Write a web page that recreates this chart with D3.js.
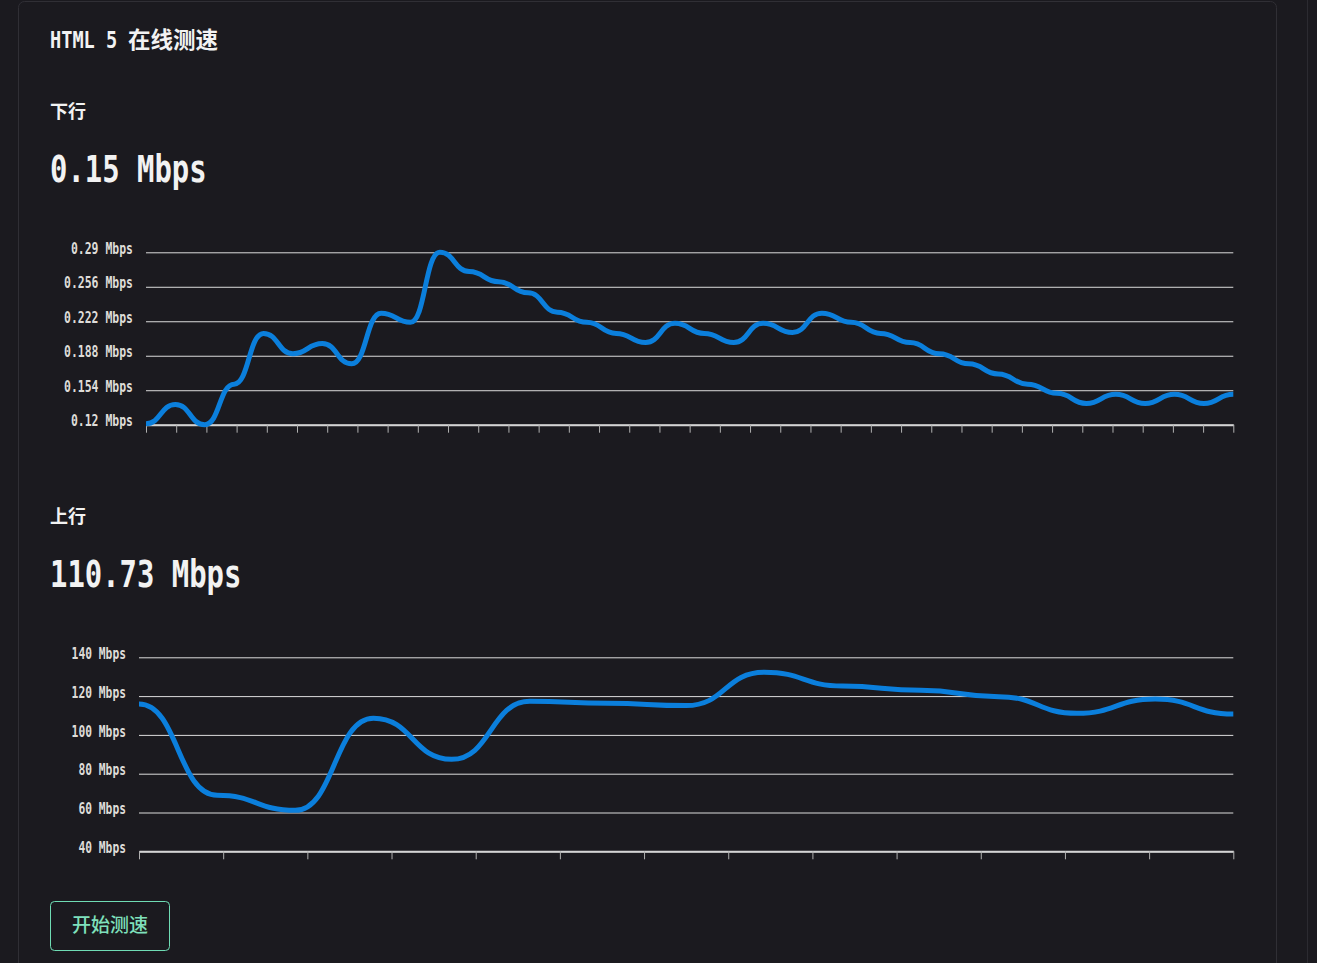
<!DOCTYPE html>
<html><head><meta charset="utf-8">
<script src="https://cdn.jsdelivr.net/npm/d3@7"></script>
<style>
html,body{margin:0;padding:0;background:#1b1a1f;overflow:hidden}
svg{display:block}
</style></head><body>
<svg id="c" width="1317" height="963"></svg>
<script>
// ---- data ----
const titleLatin = "HTML 5";
const titleCJK = "在线测速";
const downloadLabel = "下行";
const uploadLabel = "上行";
const buttonLabel = "开始测速";
const unit = "Mbps";

const downloadValues = [0.121,0.140,0.120,0.160,0.210,0.190,0.200,0.180,0.230,0.221,
  0.290,0.271,0.261,0.250,0.231,0.221,0.210,0.201,0.220,0.210,
  0.201,0.220,0.211,0.230,0.221,0.210,0.201,0.190,0.180,0.170,
  0.160,0.151,0.141,0.150,0.141,0.150,0.141,0.150];
const downloadTicks = [0.12,0.154,0.188,0.222,0.256,0.29];

const uploadValues = [115.9,68.9,61.1,108.6,87.4,117.3,116.3,115.1,132.3,125.2,123.0,119.7,111.1,118.5,110.73];
const uploadTicks = [40,60,80,100,120,140];

// ---- drawing ----
const W = 1317, H = 963;
const svg = d3.select("#c");
const mono = "'DejaVu Sans Mono', 'Noto Sans CJK SC', monospace";
const cjk = "'Noto Sans CJK SC', sans-serif";

svg.append("rect").attr("x",18.5).attr("y",1.5).attr("width",1258).attr("height",1020)
  .attr("rx",6).attr("fill","#1b1a1f").attr("stroke","#302f35");
svg.append("line").attr("x1",1307.5).attr("x2",1307.5).attr("y1",0).attr("y2",H).attr("stroke","#2c2b31");

function addText(str, o) {
  const t = svg.append("text").text(str)
    .attr("x", o.x).attr("y", o.y)
    .attr("font-family", o.family || mono)
    .attr("font-size", o.size)
    .attr("font-weight", o.weight || "normal")
    .attr("fill", o.fill || "#f2f2f2")
    .attr("text-anchor", o.anchor || "start");
  if (o.len) t.attr("textLength", o.len).attr("lengthAdjust", "spacingAndGlyphs");
  return t;
}

addText(titleLatin, {x:50, y:48, size:23, weight:"bold", len: titleLatin.length*11.2});
addText(titleCJK, {x:128, y:48, size:22.5, family:cjk, weight:"bold"});

function drawSection(o) {
  addText(o.label, {x:50, y:o.labelY, size:18, family:cjk, weight:"bold"});
  const big = `${d3.format(".2f")(o.values[o.values.length-1])} ${unit}`;
  addText(big, {x:50, y:o.bigY, size:37, weight:"bold", len: big.length*17.4});

  const n = o.values.length;
  const x = d3.scaleLinear().domain([0, n-1]).range([o.left, o.right]);
  const y = d3.scaleLinear().domain([o.ticks[0], o.ticks[o.ticks.length-1]]).range([o.bottom, o.top]);
  const nT = n - 1;
  const xt = d3.range(nT).map(i => i*(n-1)/(nT-1));

  const ya = svg.append("g").attr("transform", `translate(${o.left},0)`)
    .call(d3.axisLeft(y).tickValues(o.ticks).tickSize(-(o.right-o.left)).tickPadding(13)
      .tickFormat(d => `${d} ${unit}`));
  ya.select(".domain").remove();
  ya.selectAll(".tick line").attr("stroke","#dcdcdc").attr("stroke-width",1);
  ya.selectAll(".tick text").attr("fill","#dedcd8").attr("font-family",mono)
    .attr("font-size",15).attr("font-weight","bold").attr("dy","0.08em")
    .each(function(){ this.setAttribute("textLength", this.textContent.length*o.labelCell);
                      this.setAttribute("lengthAdjust","spacingAndGlyphs"); });

  const xa = svg.append("g").attr("transform", `translate(0,${o.bottom})`)
    .call(d3.axisBottom(x).tickValues(xt).tickSize(8).tickSizeOuter(0).tickFormat(""));
  xa.select(".domain").attr("stroke","#d4d4d4").attr("stroke-width",2);
  xa.selectAll(".tick line").attr("stroke","#b0b0b0");

  svg.append("path").datum(o.values)
    .attr("d", d3.line().x((d,i)=>x(i)).y(d=>y(d)).curve(d3.curveBumpX))
    .attr("fill","none").attr("stroke","#0b7fdc").attr("stroke-width",5)
    .attr("stroke-linejoin","round");
}

drawSection({label:downloadLabel, labelY:118, bigY:182, values:downloadValues, ticks:downloadTicks,
  top:252.3, bottom:424.7, left:146, right:1233.3, labelCell:6.9});
drawSection({label:uploadLabel, labelY:523, bigY:587, values:uploadValues, ticks:uploadTicks,
  top:657.3, bottom:851.3, left:139, right:1233.3, labelCell:6.8});

svg.append("rect").attr("x",50.5).attr("y",901.5).attr("width",119).attr("height",49)
  .attr("rx",4).attr("fill","none").attr("stroke","#6fdcb4");
addText(buttonLabel, {x:110, y:932, size:19, family:cjk, weight:500, fill:"#7fe0bc", anchor:"middle"});
</script>
</body></html>
